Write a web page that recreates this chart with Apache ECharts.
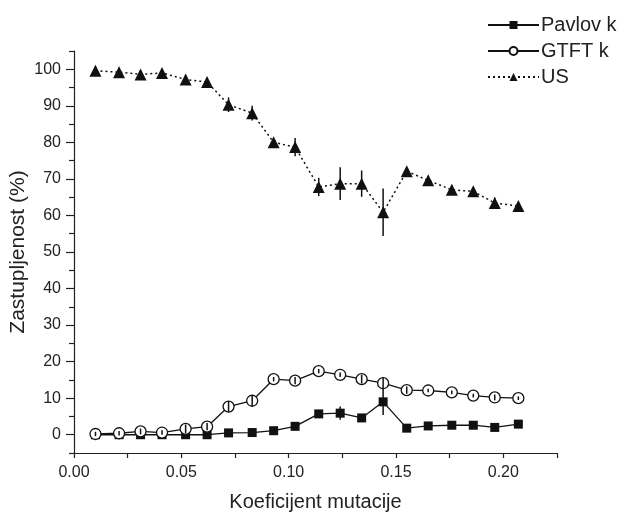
<!DOCTYPE html>
<html>
<head>
<meta charset="utf-8">
<script src="https://cdn.jsdelivr.net/npm/echarts@6/dist/echarts.min.js"></script>
<style>
  html, body { margin: 0; padding: 0; background: #fff; }
  #chart { width: 620px; height: 516px; }
</style>
</head>
<body>
<div id="chart"></div>
<script>
// x positions
const mutation = [0.010, 0.021, 0.031, 0.041, 0.052, 0.062, 0.072, 0.083, 0.093, 0.103,
                  0.114, 0.124, 0.134, 0.144, 0.155, 0.165, 0.176, 0.186, 0.196, 0.207]
const pavlov = [0, 0, 0, 0, 0, 0, 0.5, 0.6, 1.1, 2.3, 5.7, 5.9, 4.6, 9.0, 1.8, 2.4, 2.6, 2.6, 2.0, 2.9]
const pavlovErr = [0.3, 0.3, 0.3, 0.3, 0.3, 0.3, 0.4, 0.4, 0.5, 0.5, 0.8, 1.8, 0.6, 3.6, 0.4, 0.4, 0.4, 0.4, 0.4, 0.4]
const gtft = [0.2, 0.4, 0.9, 0.6, 1.6, 2.2, 7.7, 9.3, 15.2, 14.8, 17.4, 16.4, 15.2, 14.1, 12.2, 12.1, 11.6, 10.7, 10.2, 10.0]
const gtftErr = [0.6, 0.6, 0.8, 0.6, 1.2, 1.0, 1.5, 1.5, 0.6, 1.0, 0.6, 0.6, 1.2, 1.5, 1.0, 0.5, 0.5, 0.5, 0.8, 0.5]
const us = [99.6, 99.2, 98.6, 99.0, 97.2, 96.5, 90.3, 88.0, 80.0, 78.7, 67.8, 68.7, 68.7, 60.9, 72.1, 69.6, 67.0, 66.6, 63.4, 62.6]
const usErr = [1.2, 1.2, 1.2, 1.0, 1.2, 1.2, 2.0, 2.0, 1.0, 2.5, 2.5, 4.5, 3.6, 6.5, 1.0, 1.0, 1.2, 1.0, 1.5, 1.0]

const yMajor = [0, 10, 20, 30, 40, 50, 60, 70, 80, 90, 100]
const yMinor = [-5, 5, 15, 25, 35, 45, 55, 65, 75, 85, 95, 105]

const font = 'Liberation Sans, Arial, sans-serif'
const ink = '#222'

function pairs(ys) {
  return ys.map((y, i) => [mutation[i], y])
}

function errorSeries(ys, errs, z) {
  return {
    type: 'custom',
    silent: true,
    z: z,
    data: ys.map((y, i) => [mutation[i], y - errs[i], y + errs[i]]),
    renderItem: function (params, api) {
      const lo = api.coord([api.value(0), api.value(1)])
      const hi = api.coord([api.value(0), api.value(2)])
      return {
        type: 'line',
        shape: { x1: lo[0], y1: lo[1], x2: hi[0], y2: hi[1] },
        style: { stroke: '#111', lineWidth: 1.5 }
      }
    }
  }
}

const chart = echarts.init(document.getElementById('chart'))
chart.setOption({
  animation: false,
  grid: { left: 74, right: 63, top: 51, bottom: 63, containLabel: false, outerBoundsMode: 'none' },
  legend: {
    orient: 'vertical',
    left: 482,
    top: 10,
    itemWidth: 51,
    itemHeight: 10,
    itemGap: 6,
    textStyle: { fontFamily: font, fontSize: 20, lineHeight: 20, color: ink, padding: [0, 0, 0, -3] },
    data: ['Pavlov k', 'GTFT k', 'US']
  },
  xAxis: {
    type: 'value',
    min: 0,
    max: 0.225,
    interval: 0.05,
    name: 'Koeficijent mutacije',
    nameLocation: 'middle',
    nameGap: 39,
    nameMoveOverlap: false,
    nameTextStyle: { fontFamily: font, fontSize: 20, color: ink },
    axisLine: { onZero: false, lineStyle: { color: ink, width: 1.2 } },
    axisTick: { inside: false, length: 5, lineStyle: { color: ink, width: 1.2 } },
    minorTick: { show: true, splitNumber: 2, length: 5, lineStyle: { color: ink, width: 1.2 } },
    splitLine: { show: false },
    axisLabel: {
      fontFamily: font, fontSize: 16, color: ink, margin: 12,
      formatter: v => v.toFixed(2),
      showMaxLabel: false
    }
  },
  yAxis: [
    {
      type: 'value',
      min: -5,
      max: 105,
      name: 'Zastupljenost (%)',
      nameLocation: 'middle',
      nameGap: 45,
      nameMoveOverlap: false,
      nameTextStyle: { fontFamily: font, fontSize: 21, color: ink },
      axisLine: { show: true, onZero: false, lineStyle: { color: ink, width: 1.2 } },
      axisTick: { show: true, length: 8, customValues: yMajor, lineStyle: { color: ink, width: 1.2 } },
      splitLine: { show: false },
      axisLabel: { fontFamily: font, fontSize: 16, color: ink, margin: 13, customValues: yMajor }
    },
    {
      type: 'value',
      min: -5,
      max: 105,
      position: 'left',
      axisLine: { show: false, onZero: false },
      axisTick: { show: true, length: 5, customValues: yMinor, lineStyle: { color: ink, width: 1.2 } },
      splitLine: { show: false },
      axisLabel: { show: false }
    }
  ],
  series: [
    {
      name: 'Pavlov k',
      type: 'line',
      data: pairs(pavlov),
      z: 3,
      symbol: 'rect',
      symbolSize: 9,
      itemStyle: { color: '#111' },
      lineStyle: { color: '#111', width: 1.3 }
    },
    errorSeries(pavlov, pavlovErr, 4),
    {
      name: 'GTFT k',
      type: 'line',
      data: pairs(gtft),
      z: 5,
      symbol: 'circle',
      symbolSize: 11,
      itemStyle: { color: '#fff', borderColor: '#111', borderWidth: 1.3 },
      lineStyle: { color: '#111', width: 1.3 }
    },
    errorSeries(gtft, gtftErr, 6),
    {
      name: 'US',
      type: 'line',
      data: pairs(us),
      z: 3,
      symbol: 'triangle',
      symbolSize: 12,
      itemStyle: { color: '#111' },
      lineStyle: { color: '#111', width: 1.5, type: [2, 3] }
    },
    errorSeries(us, usErr, 4)
  ]
})
</script>
</body>
</html>
